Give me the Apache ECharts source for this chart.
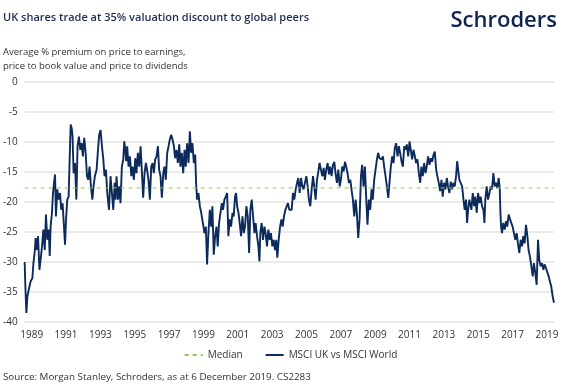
<!DOCTYPE html>
<html>
<head>
<meta charset="utf-8">
<script src="https://cdn.jsdelivr.net/npm/echarts@6/dist/echarts.min.js"></script>
<style>
html,body{margin:0;padding:0;background:#fff;}
#chart{width:581px;height:391px;}
</style>
</head>
<body>
<div id="chart"></div>
<script>
const dates = [
1989.09,1989.13,1989.19,1989.25,1989.33,1989.44,1989.54,1989.60,1989.67,1989.73,1989.79,1989.87,1989.95,
1990.02,1990.10,1990.18,1990.26,1990.33,1990.41,1990.49,1990.55,1990.60,1990.68,1990.74,1990.80,1990.86,1990.91,1990.99,
1991.07,1991.15,1991.22,1991.30,1991.38,1991.44,1991.50,1991.57,1991.65,1991.71,1991.77,1991.83,1991.88,1991.94,
1992.02,1992.10,1992.17,1992.25,1992.33,1992.41,1992.48,1992.56,1992.64,1992.72,1992.79,1992.87,1992.95,
1993.03,1993.10,1993.18,1993.28,1993.36,1993.43,1993.51,1993.59,1993.67,1993.74,1993.82,1993.90,1994.00,
1994.09,1994.17,1994.25,1994.33,1994.38,1994.44,1994.52,1994.60,1994.67,1994.75,1994.83,1994.89,1994.95,
1995.00,1995.06,1995.14,1995.22,1995.30,1995.37,1995.45,1995.53,1995.60,1995.68,1995.76,1995.84,1995.92,1995.99,
1996.07,1996.15,1996.23,1996.30,1996.38,1996.46,1996.54,1996.61,1996.69,1996.77,1996.85,1996.92,
1997.00,1997.08,1997.16,1997.23,1997.31,1997.39,1997.47,1997.54,1997.62,1997.70,1997.78,1997.85,1997.93,
1998.01,1998.09,1998.16,1998.24,1998.32,1998.40,1998.47,1998.55,1998.63,1998.71,1998.78,1998.86,1998.94,
1999.02,1999.07,1999.13,1999.21,1999.29,1999.37,
1999.48,1999.56,1999.64,1999.71,1999.79,1999.87,1999.95,
2000.02,2000.10,2000.18,2000.26,2000.33,2000.41,2000.49,2000.57,2000.64,2000.72,2000.80,2000.88,2000.95,
2001.03,2001.11,2001.19,2001.26,2001.34,2001.40,2001.46,2001.54,2001.61,2001.69,2001.77,2001.85,2001.92,
2002.00,2002.08,2002.16,2002.23,2002.31,2002.39,2002.47,2002.54,2002.62,2002.70,2002.76,2002.81,2002.89,2002.97,
2003.05,2003.12,2003.20,2003.28,2003.36,2003.43,2003.51,2003.59,2003.67,2003.74,2003.80,2003.88,2003.96,
2004.04,2004.11,2004.19,2004.27,2004.35,2004.42,2004.50,
2004.64,2004.71,2004.79,2004.87,2004.95,
2005.02,2005.10,2005.18,2005.26,2005.33,2005.41,2005.49,2005.57,2005.64,2005.72,2005.80,2005.88,2005.95,
2006.03,2006.11,2006.19,2006.26,2006.34,2006.42,2006.50,2006.57,2006.65,2006.73,2006.81,2006.88,2006.96,
2007.04,2007.12,2007.19,2007.27,2007.35,2007.43,2007.50,2007.58,2007.66,2007.74,2007.81,2007.89,2007.97,
2008.05,2008.12,2008.20,2008.28,2008.36,2008.43,2008.51,2008.59,2008.67,2008.74,2008.82,2008.90,2008.98,
2009.05,2009.13,2009.21,2009.29,2009.36,2009.44,2009.52,2009.60,2009.67,2009.75,
2009.87,2009.95,
2010.02,2010.10,2010.18,2010.26,2010.33,2010.41,2010.49,2010.57,2010.64,2010.72,2010.80,2010.88,2010.95,
2011.03,2011.11,2011.19,2011.26,2011.34,2011.42,2011.50,2011.57,2011.65,2011.73,2011.81,2011.88,2011.96,
2012.04,2012.12,2012.19,2012.27,2012.35,2012.43,2012.50,2012.58,2012.66,2012.74,2012.81,2012.89,2012.97,
2013.05,2013.12,2013.20,2013.28,2013.36,2013.43,2013.51,2013.59,2013.67,2013.74,2013.82,2013.90,2013.98,
2014.05,2014.13,2014.21,2014.27,2014.33,2014.40,2014.48,2014.56,2014.64,2014.71,2014.79,2014.85,2014.91,2014.98,
2015.10,2015.18,2015.26,2015.33,2015.41,2015.49,2015.57,2015.64,2015.72,2015.80,2015.86,2015.91,2015.99,
2016.07,2016.15,2016.22,2016.30,2016.38,2016.46,2016.53,2016.61,2016.69,2016.75,2016.79,2016.83,2016.88,2016.96,
2017.04,2017.12,2017.19,2017.27,2017.35,2017.43,2017.50,2017.58,2017.66,2017.74,2017.81,2017.89,2017.97,
2018.05,2018.12,2018.20,2018.28,2018.36,2018.43,2018.51,2018.59,2018.67,2018.74,2018.82,2018.90,2018.98,
2019.05,2019.13,2019.21,2019.29,2019.36,2019.44,2019.52,2019.60,2019.67,2019.75,2019.83,2019.91
];

// MSCI UK vs MSCI World, average % premium
const premium = [
-30,-34,-38.5,-35.7,-34.6,-33.2,-32.7,-30.2,-28.5,-26,-28,-25.7,-31.3,-29.6,-27.4,-24.6,-28,-22.1,-26.3,-24.6,
-29,-24.1,-21.8,-18.5,-16.8,-15.4,-22.4,-17.9,-19.6,-18.5,-21.3,-20.2,-24.1,-27.1,-22.9,-19.6,-19.1,-12.9,-7.1,-7.7,
-9.1,-15.2,-13.5,-19.6,-10.7,-9.1,-11.3,-10.2,-12.4,-9.3,-11.8,-15.7,-16.3,-14.1,-17.4,-19.6,-17.4,-15.7,-14.6,-11.3,
-8.8,-8,-10.7,-12.9,-15.7,-14.6,-18.5,-21.3,
-15.7,-18.5,-21.3,-16.8,-19.6,-15.7,-19.6,-17.4,-20.2,-14.1,-12.9,-9.9,-11.3,-13.2,-10.7,-14.1,-12.4,-15.7,-14.1,-16.3,
-12.7,-15.2,-11.8,-14.1,-10.7,-15.2,-19.3,-15.2,-13.5,-14.9,-16.3,-19.6,-14.1,-13.5,-15.2,-12.9,-12.4,-10.7,-14.6,-15.7,
-19.3,-15.2,-14.1,-16.3,-11.8,-10.7,-9.6,-8.8,-9.6,-10.7,-12.7,-11.3,-13.5,-10.4,-14.1,-11.8,-15.2,-11.3,-14.1,-10.2,
-13.5,-8.2,-11.8,-10.2,-13.5,-12.1,-16.8,-19.6,-18.5,-20.7,-21.8,
-21.8,-25.2,-24.1,-30.4,-25.2,-21.3,-24.1,-20.7,-28.8,-25.7,-24.1,-27.4,-23.5,-21.8,-20.2,-21.3,-19.6,-19.1,-18.5,-25.7,
-22.9,-24.1,-21.8,-22.4,-19.1,-18.5,-20.7,-21.8,-23.5,-25.7,-22.4,-25.2,-24.1,-20.7,-22.4,-28.5,-21.3,-19.6,-22.4,-25.2,
-23.5,-25.7,-27.4,-29.9,-25.2,-23.5,-26.3,-24.1,-25.2,-27.4,-24.6,-26.3,-25.2,-27.4,-26.3,-28,-26.3,-29.3,-26.3,-24.1,
-22.9,-24.1,-22.4,-21.3,-20.7,-20.2,-21.3,
-21.3,-18.5,-19.6,-17.9,-16.8,-16,-18.5,-16,-17.4,-17.9,-16.8,-15.7,-17.4,-19.6,-20.7,-17.9,-15.7,-17.4,-19.6,-16.3,
-14.9,-13.5,-14.6,-15.7,-14.3,-16.3,-14.6,-13.5,-15.4,-14.1,-15.7,-13.8,-13.3,-15.2,-16.8,-14.6,-17.4,-16.3,-14.1,-14.9,
-13.3,-14.1,-15.2,-16.8,-16.3,-17.9,-19.6,-22.4,-19.6,-21.8,-26,-22.9,-15.7,-13.8,-17.4,-14.1,-19.6,-23.8,-19.6,-21.3,
-17.9,-19.6,-16.3,-14.6,-12.9,-11.8,-12.7,
-12.9,-12.4,-14.1,-15.7,-17.4,-19.3,-16.8,-14.1,-12.4,-13.5,-11,-10.2,-12.4,-10.7,-11.8,-13.2,-14.1,-10.7,-11.3,-10.4,
-12.4,-9.9,-9.6,-12.9,-11.3,-12.4,-13.5,-12.9,-15.2,-16.8,-14.1,-15.7,-13.5,-15.2,-14.1,-12.4,-13.8,-12.7,-13.3,-12.2,
-11.6,-14.6,-15.7,-16.8,-18.2,-16.3,-19.1,-16.8,-17.9,-16,-17.4,-18.5,-16.6,-17.9,-16.8,-17.4,-15.7,-13.2,-14.6,-16.3,
-16.3,-17.4,-19.6,-21.3,-19.6,-23.5,-21.3,-19.6,
-21.3,-18.5,-20.7,-19.1,-21.8,-18.5,-20.2,-19.1,-20.7,-21.3,-23.5,-19.6,
-17.4,-19.6,-18.5,-17.4,-17.9,-15.2,-17.4,-16.8,-17.7,-16,-17.7,-21.8,-24.1,-25.2,
-23.5,-24.6,-23.2,-24.1,-22.1,-22.9,-22.7,-24.1,-25.2,-26.3,-25.2,-26.9,-28.5,-26.3,-27.4,-25.7,-26.9,-23.8,-25.7,-28,
-29.1,-30.7,-32.4,-30.2,-31.8,-33.8,-26.3,-29.6,-30.7,-30.2,-31.3,-30.4,-31,-31.3,-32.4,-33.2,-34.1,-35.7,-36.8
];

const medianValue = -17.65;
const xLabelYears = [1989,1991,1993,1995,1997,1999,2001,2003,2005,2007,2009,2011,2013,2015,2017,2019];
const xStart = 1989.09, xEnd = 2019.91;
const yMin = -40, yMax = 0, yStep = 5;

const FONT = "'Open Sans', 'Noto Sans', sans-serif";
const chart = echarts.init(document.getElementById('chart'), null, {renderer: 'canvas'});
const lineData = dates.map((d, i) => [d, premium[i]]);

chart.setOption({
  animation: false,
  backgroundColor: '#ffffff',
  textStyle: {fontFamily: FONT},
  title: [
    {text: 'UK shares trade at 35% valuation discount to global peers', left: 3, top: 12, padding: 0,
     textStyle: {fontSize: 11, fontWeight: 600, color: '#1b2d55', fontFamily: FONT}},
    {text: 'Schroders', right: 24, top: 10, padding: 0,
     textStyle: {fontSize: 22, fontWeight: 600, color: '#0f2350', fontFamily: FONT}},
    {text: 'Average % premium on price to earnings,\nprice to book value and price to dividends', left: 3, top: 45, padding: 0,
     textStyle: {fontSize: 9.5, fontWeight: 'normal', color: '#333333', lineHeight: 14, fontFamily: FONT}},
    {text: 'Source: Morgan Stanley, Schroders, as at 6 December 2019. CS2283', left: 3, top: 372, padding: 0,
     textStyle: {fontSize: 9.8, fontWeight: 'normal', color: '#333333', fontFamily: FONT}}
  ],
  legend: {
    bottom: 26, left: 'center', itemWidth: 18, itemHeight: 2, itemGap: 22,
    textStyle: {fontSize: 10, color: '#333333', fontFamily: FONT},
    data: ['Median', 'MSCI UK vs MSCI World']
  },
  grid: {left: 24, right: 27, top: 82, bottom: 69, containLabel: false},
  xAxis: {
    type: 'value', min: xStart, max: xEnd,
    axisLine: {show: false}, axisTick: {show: false}, splitLine: {show: false},
    axisLabel: {
      customValues: xLabelYears.map(y => y + 0.5),
      formatter: v => String(Math.floor(v)),
      fontSize: 10, color: '#333333', margin: 8, fontFamily: FONT
    }
  },
  yAxis: {
    type: 'value', min: yMin, max: yMax, interval: yStep,
    axisLine: {show: false}, axisTick: {show: false},
    splitLine: {lineStyle: {color: '#e3e3e3', width: 1.5}},
    axisLabel: {fontSize: 10, color: '#333333', margin: 7, fontFamily: FONT}
  },
  series: [
    {
      name: 'Median', type: 'line', symbol: 'none', z: 3,
      data: [[xStart, medianValue], [xEnd, medianValue]],
      lineStyle: {color: '#92c857', width: 1, type: [4, 4]},
      itemStyle: {color: '#92c857'}
    },
    {
      name: 'MSCI UK vs MSCI World', type: 'line', symbol: 'none', z: 2,
      data: lineData,
      lineStyle: {color: '#0d2a5c', width: 1.9},
      itemStyle: {color: '#0d2a5c'}
    }
  ]
});
</script>
</body>
</html>
